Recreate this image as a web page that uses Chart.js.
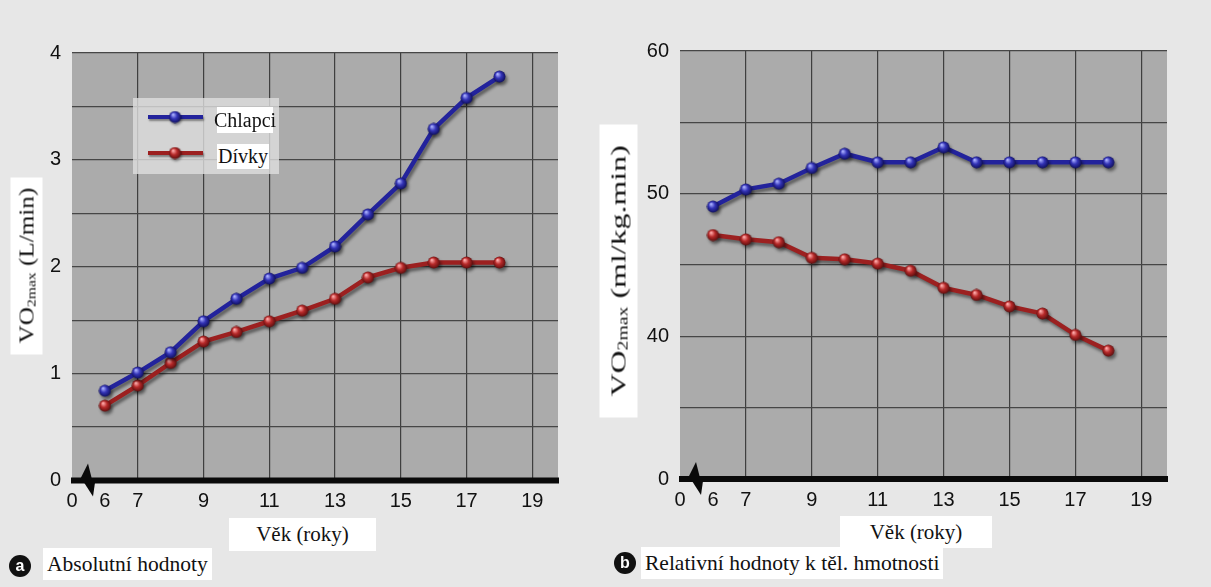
<!DOCTYPE html>
<html>
<head>
<meta charset="utf-8">
<script src="https://cdn.jsdelivr.net/npm/chart.js@4.4.0/dist/chart.umd.min.js"></script>
<style>
  body { margin: 0; width: 1211px; height: 587px; background: #e7e7e7; position: relative; overflow: hidden; }
  canvas { position: absolute; top: 0; }
  .box { position: absolute; background: #fff; color: #111; white-space: nowrap; display: flex; align-items: center; justify-content: center;
         font-family: "Liberation Serif", "Times New Roman", "DejaVu Serif", serif; }
  .rot { transform: rotate(-90deg); }
  .rot span { display: inline-block; }
  sub { font-size: 0.62em; vertical-align: -0.15em; }
  .dot { position: absolute; width: 22px; height: 22px; border-radius: 50%; background: #111; color: #fff; font: bold 16px "Liberation Sans", Arial, sans-serif; display: flex; align-items: center; justify-content: center; line-height: 1; }
</style>
</head>
<body>
<div style="position:absolute;left:0;top:0;width:600px;height:587px"><canvas id="chartA" width="600" height="587"></canvas></div>
<div style="position:absolute;left:600px;top:0;width:611px;height:587px"><canvas id="chartB" width="611" height="587"></canvas></div>

<div class="box rot" style="left:-62px;top:250px;width:177px;height:32px;font-size:21px"><span style="transform:scaleX(1.2)">VO<sub>2max</sub> (L/min)</span></div>
<div class="box rot" style="left:472px;top:252px;width:293px;height:38px;font-size:22px"><span style="transform:scaleX(1.45)">VO<sub>2max</sub> (ml/kg.min)</span></div>

<div class="box" style="left:217px;top:107px;width:56px;height:26px;font-size:20px" id="legA"></div>
<div class="box" style="left:217px;top:144px;width:52px;height:25px;font-size:20px" id="legB"></div>

<div class="box xt" style="left:229px;top:518px;width:147px;height:33px;font-size:21px"></div>
<div class="box xt" style="left:840px;top:516px;width:152px;height:32px;font-size:21px"></div>

<div class="dot" style="left:9px;top:555px">a</div>
<div class="box" style="left:43px;top:548px;height:32px;padding:0 4px;font-size:21.5px">Absolutní hodnoty</div>
<div class="dot" style="left:614px;top:552px">b</div>
<div class="box" style="left:641px;top:547px;height:32px;padding:0 4px;font-size:21.5px">Relativní hodnoty k těl. hmotnosti</div>

<script>
// ages in years
const ages = [6, 7, 8, 9, 10, 11, 12, 13, 14, 15, 16, 17, 18];
// VO2max absolute (L/min)
const boysAbs  = [0.84, 1.01, 1.20, 1.49, 1.70, 1.89, 1.99, 2.19, 2.49, 2.78, 3.29, 3.58, 3.78];
const girlsAbs = [0.70, 0.89, 1.10, 1.30, 1.39, 1.49, 1.59, 1.70, 1.90, 1.99, 2.04, 2.04, 2.04];
// VO2max relative (ml/kg.min)
const boysRel  = [49.1, 50.3, 50.7, 51.8, 52.8, 52.2, 52.2, 53.25, 52.2, 52.2, 52.2, 52.2, 52.2];
const girlsRel = [47.1, 46.8, 46.6, 45.5, 45.4, 45.1, 44.6, 43.4, 42.9, 42.1, 41.6, 40.1, 39.0];
// x ticks; 5 sits at the axis break and is shown as "0"
const xTicks = [5, 6, 7, 9, 11, 13, 15, 17, 19];
const seriesNames = ['Chlapci', 'Dívky'];
const xTitle = 'Věk (roky)';

document.getElementById('legA').textContent = seriesNames[0];
document.getElementById('legB').textContent = seriesNames[1];
document.querySelectorAll('.xt').forEach(function (el) { el.textContent = xTitle; });

function sphere(light, mid, dark) {
  var c = document.createElement('canvas');
  c.width = c.height = 13;
  var g = c.getContext('2d');
  var gr = g.createRadialGradient(4.5, 4, 0.5, 6.5, 6.5, 6.5);
  gr.addColorStop(0, light);
  gr.addColorStop(0.45, mid);
  gr.addColorStop(1, dark);
  g.fillStyle = gr;
  g.beginPath(); g.arc(6.5, 6.5, 6, 0, Math.PI * 2); g.fill();
  return c;
}
const blueBall = sphere('#aab0ff', '#3434b8', '#0c0c55');
const redBall = sphere('#ffaaaa', '#b82a2a', '#550c0c');

function pts(xs, ys) { return xs.map(function (x, i) { return { x: x, y: ys[i] }; }); }

const plotStyle = {
  id: 'plotStyle',
  beforeDraw: function (chart) {
    var a = chart.chartArea, ctx = chart.ctx;
    ctx.save();
    ctx.fillStyle = '#ababab';
    ctx.fillRect(a.left, a.top, a.right - a.left, a.bottom - a.top);
    ctx.restore();
  },
  beforeDatasetsDraw: function (chart) {
    var ctx = chart.ctx;
    ctx.save();
    ctx.shadowColor = 'rgba(0,0,0,0.45)';
    ctx.shadowBlur = 3;
    ctx.shadowOffsetX = 2;
    ctx.shadowOffsetY = 3;
  },
  afterDatasetsDraw: function (chart) {
    chart.ctx.restore();
  },
  afterDraw: function (chart) {
    var a = chart.chartArea, ctx = chart.ctx;
    ctx.save();
    // thick base line
    ctx.fillStyle = '#0a0a0a';
    ctx.fillRect(a.left - 1, a.bottom - 3, a.right - a.left + 2, 6);
    // axis break mark
    var bx = a.left, by = a.bottom;
    ctx.beginPath();
    ctx.moveTo(bx + 16, by - 17); ctx.lineTo(bx + 20, by - 1); ctx.lineTo(bx + 8, by - 1); ctx.closePath();
    ctx.fill();
    ctx.beginPath();
    ctx.moveTo(bx + 12, by + 2); ctx.lineTo(bx + 23, by + 2); ctx.lineTo(bx + 21, by + 16); ctx.closePath();
    ctx.fill();
    ctx.restore();
  }
};

const legendBox = {
  id: 'legendBox',
  afterDatasetsDraw: function (chart) {
    var ctx = chart.ctx;
    ctx.save();
    ctx.fillStyle = 'rgba(222,222,222,0.8)';
    ctx.fillRect(133, 98, 146, 76);
    ctx.shadowColor = 'rgba(0,0,0,0.4)';
    ctx.shadowBlur = 2; ctx.shadowOffsetX = 1; ctx.shadowOffsetY = 2;
    [[117, '#23239c', blueBall], [153, '#9c2020', redBall]].forEach(function (r) {
      ctx.strokeStyle = r[1]; ctx.lineWidth = 4;
      ctx.beginPath(); ctx.moveTo(148, r[0]); ctx.lineTo(203, r[0]); ctx.stroke();
      ctx.drawImage(r[2], 175 - 6.5, r[0] - 6.5);
    });
    ctx.restore();
  }
};

const tickFont = { family: '"Liberation Sans", Arial, sans-serif', size: 20 };

function makeChart(id, boys, girls, yMin, yMax, yStep, yLabel, pad, yWidth, xHeight, extra) {
  return new Chart(document.getElementById(id), {
    type: 'line',
    data: {
      datasets: [
        { label: seriesNames[0], data: pts(ages, boys), borderColor: '#23239c', borderWidth: 4.5,
          pointStyle: blueBall, pointRadius: 6, tension: 0 },
        { label: seriesNames[1], data: pts(ages, girls), borderColor: '#9c2020', borderWidth: 4.5,
          pointStyle: redBall, pointRadius: 6, tension: 0 }
      ]
    },
    options: {
      responsive: false,
      animation: false,
      layout: { padding: pad },
      plugins: { legend: { display: false }, tooltip: { enabled: false } },
      scales: {
        x: {
          type: 'linear', min: 5, max: 19.78,
          afterBuildTicks: function (s) { s.ticks = xTicks.map(function (v) { return { value: v }; }); },
          afterFit: function (s) { s.height = xHeight; },
          border: { display: false },
          grid: {
            drawTicks: false, lineWidth: 1.2,
            color: function (c) { return (c.tick && c.tick.value <= 6) ? 'rgba(0,0,0,0)' : '#3f3f3f'; }
          },
          ticks: { autoSkip: false, maxRotation: 0, padding: 9, color: '#111', font: tickFont,
            callback: function (v) { return v === 5 ? '0' : v; } }
        },
        y: {
          min: yMin, max: yMax,
          afterFit: function (s) { s.width = yWidth; },
          border: { display: false },
          grid: { drawTicks: false, lineWidth: 1.2, color: '#464646' },
          ticks: { stepSize: yStep, padding: 11, color: '#111', font: tickFont, callback: yLabel }
        }
      }
    },
    plugins: extra
  });
}

makeChart('chartA', boysAbs, girlsAbs, 0, 4, 0.5,
  function (v) { return Number.isInteger(v) ? v : ''; },
  { top: 53, right: 42, left: 0, bottom: 0 }, 72, 106.5, [plotStyle, legendBox]);

makeChart('chartB', boysRel, girlsRel, 30, 60, 5,
  function (v) { return v === 30 ? '0' : (v % 10 === 0 ? v : ''); },
  { top: 51, right: 44, left: 0, bottom: 0 }, 80, 108, [plotStyle]);
</script>
</body>
</html>
